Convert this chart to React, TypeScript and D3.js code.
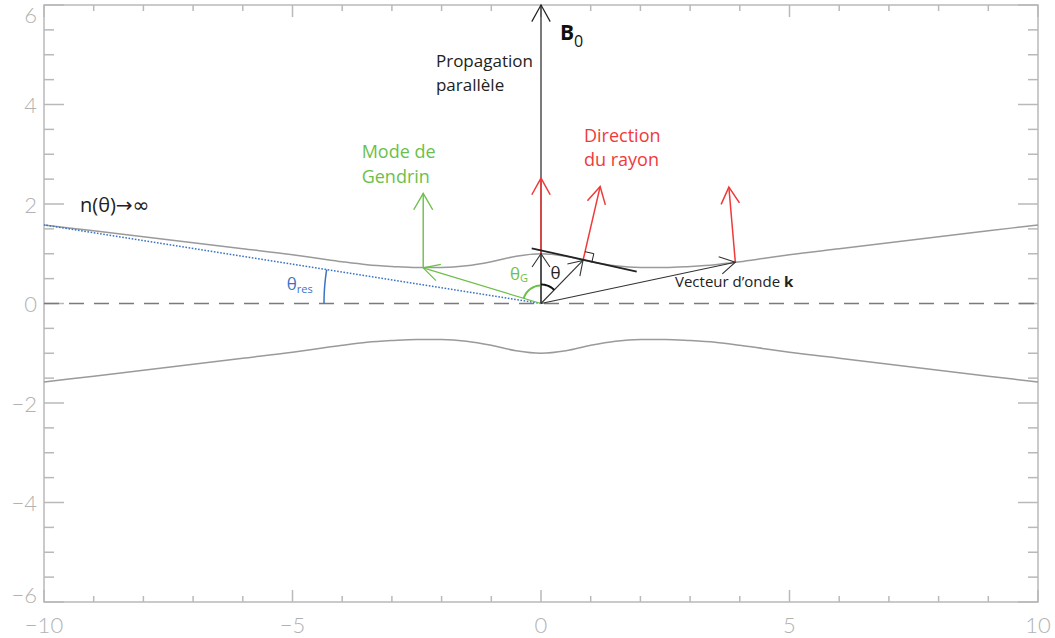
import React from "react";
import * as d3 from "d3";

// ---- data ----
const curveX = [-10, -9, -8, -7, -6, -5, -4.5, -4, -3.5, -3, -2.5, -2, -1.5, -1, -0.5, 0, 0.5, 1, 1.5, 2, 2.5, 3, 3.5, 4, 4.5, 5, 6, 7, 8, 9, 10];
const upperY = [1.58, 1.46, 1.34, 1.22, 1.1, 0.98, 0.91, 0.84, 0.78, 0.745, 0.722, 0.724, 0.758, 0.84, 0.95, 1.0, 0.95, 0.84, 0.758, 0.724, 0.722, 0.745, 0.78, 0.84, 0.91, 0.98, 1.1, 1.22, 1.34, 1.46, 1.58];
const lowerY = [-1.58, -1.46, -1.34, -1.22, -1.1, -0.98, -0.91, -0.84, -0.78, -0.745, -0.722, -0.724, -0.758, -0.84, -0.95, -1.0, -0.95, -0.84, -0.758, -0.724, -0.722, -0.745, -0.78, -0.84, -0.91, -0.98, -1.1, -1.22, -1.34, -1.46, -1.58];

const xMajorTicks = [-10, -5, 0, 5, 10];
const xMinorTicks = [-9, -8, -7, -6, -4, -3, -2, -1, 1, 2, 3, 4, 6, 7, 8, 9];
const yMajorTicks = [-6, -4, -2, 0, 2, 4, 6];
const yMinorTicks = [-5.5, -5, -4.5, -3.5, -3, -2.5, -1.5, -1, -0.5, 0.5, 1, 1.5, 2.5, 3, 3.5, 4.5, 5, 5.5];

// key vectors (data coordinates)
const pGendrin: [number, number] = [-2.37, 0.715];
const pRay: [number, number] = [0.845, 0.865];
const pK: [number, number] = [3.91, 0.83];
const pPar: [number, number] = [0, 1.0];
const redTips: [number, number][] = [[0, 2.52], [1.19, 2.35], [3.78, 2.34]];
const redBases: [number, number][] = [pPar, pRay, pK];
const gendrinTip: [number, number] = [-2.37, 2.215];
const tangentLine: [number, number][] = [[-0.187, 1.11], [1.926, 0.64]];
const resEnd: [number, number] = [-10, 1.58];

const W = 1055, H = 638;
const x = d3.scaleLinear().domain([-10, 10]).range([44, 1038]);
const y = d3.scaleLinear().domain([-6, 6]).range([602, 5]);

const AX = "#b9b9b9";
const LBL = "#b2b2b2";
const GREEN = "#6cbf4a";
const RED = "#f03a3a";
const BLUE = "#3b73c4";
const FONT = "'Open Sans', 'Noto Sans', sans-serif";

function head(tx: number, ty: number, fx: number, fy: number, len: number, angDeg: number) {
  const dx = fx - tx, dy = fy - ty;
  const L = Math.hypot(dx, dy);
  const ux = dx / L, uy = dy / L;
  const a = (angDeg * Math.PI) / 180;
  const r = (c: number, s: number) => [ux * c - uy * s, ux * s + uy * c];
  const [ax, ay] = r(Math.cos(a), Math.sin(a));
  const [bx, by] = r(Math.cos(a), -Math.sin(a));
  return `M${tx + ax * len},${ty + ay * len}L${tx},${ty}L${tx + bx * len},${ty + by * len}`;
}

function Arrow({ from, to, color, width, len, ang }: { from: [number, number]; to: [number, number]; color: string; width: number; len: number; ang: number }) {
  const fx = x(from[0]), fy = y(from[1]), tx = x(to[0]), ty = y(to[1]);
  return (
    <g stroke={color} strokeWidth={width} fill="none">
      <line x1={fx} y1={fy} x2={tx} y2={ty} />
      <path d={head(tx, ty, fx, fy, len, ang)} />
    </g>
  );
}

export default function App() {
  const line = d3.line<number>().x((_, i) => x(curveX[i])).y((d) => y(d)).curve(d3.curveMonotoneX);
  const ox = x(0), oy = y(0);

  const angOf = (p: [number, number]) => Math.atan2(y(p[1]) - oy, x(p[0]) - ox);
  const arcPath = (r: number, a0: number, a1: number) => {
    const pts = d3.range(0, 1.0001, 0.05).map((t) => {
      const a = a0 + (a1 - a0) * t;
      return [ox + r * Math.cos(a), oy + r * Math.sin(a)];
    });
    return "M" + pts.map((p) => p.join(",")).join("L");
  };
  const up = -Math.PI / 2;
  const greenArc = arcPath(18, angOf(pGendrin), up);
  const thetaArc = arcPath(19, up, angOf(pRay));
  const resArc = arcPath(217, angOf(resEnd), -Math.PI);

  const rx = x(pRay[0]), ry = y(pRay[1]);
  const t0 = [x(tangentLine[1][0]) - x(tangentLine[0][0]), y(tangentLine[1][1]) - y(tangentLine[0][1])];
  const tl = Math.hypot(t0[0], t0[1]);
  const tu = [t0[0] / tl, t0[1] / tl];
  const n0 = [x(redTips[1][0]) - rx, y(redTips[1][1]) - ry];
  const nl = Math.hypot(n0[0], n0[1]);
  const nu = [n0[0] / nl, n0[1] / nl];
  const s = 9;
  const sq = `M${rx + tu[0] * s},${ry + tu[1] * s}L${rx + tu[0] * s + nu[0] * s},${ry + tu[1] * s + nu[1] * s}L${rx + nu[0] * s},${ry + nu[1] * s}`;

  return (
    <svg width={W} height={H} style={{ position: "absolute", left: 0, top: 0, background: "#fff" }}>
      <rect x={x(-10)} y={y(6)} width={x(10) - x(-10)} height={y(-6) - y(6)} fill="none" stroke={AX} strokeWidth={1.5} />
      <g stroke={AX} strokeWidth={1.5}>
        {yMajorTicks.map((v) => (
          <g key={"ym" + v}>
            <line x1={x(-10)} x2={x(-10) + 20} y1={y(v)} y2={y(v)} />
            <line x1={x(10)} x2={x(10) - 20} y1={y(v)} y2={y(v)} />
          </g>
        ))}
        {yMinorTicks.map((v) => (
          <g key={"yn" + v}>
            <line x1={x(-10)} x2={x(-10) + 10} y1={y(v)} y2={y(v)} />
            <line x1={x(10)} x2={x(10) - 10} y1={y(v)} y2={y(v)} />
          </g>
        ))}
        {xMajorTicks.map((v) => (
          <g key={"xm" + v}>
            <line x1={x(v)} x2={x(v)} y1={y(-6)} y2={y(-6) - 12} />
            <line x1={x(v)} x2={x(v)} y1={y(6)} y2={y(6) + 12} />
          </g>
        ))}
        {xMinorTicks.map((v) => (
          <g key={"xn" + v}>
            <line x1={x(v)} x2={x(v)} y1={y(-6)} y2={y(-6) - 6} />
            <line x1={x(v)} x2={x(v)} y1={y(6)} y2={y(6) + 6} />
          </g>
        ))}
      </g>
      <g fill={LBL} fontFamily="Lato, 'DejaVu Sans', sans-serif" fontWeight={300} fontSize={22}>
        {yMajorTicks.map((v) => (
          <text key={"yl" + v} x={37} y={Math.min(Math.max(y(v), 14), 594)} textAnchor="end" dominantBaseline="central">
            {v < 0 ? "\u2212" + Math.abs(v) : String(v)}
          </text>
        ))}
        {xMajorTicks.map((v) => (
          <text key={"xl" + v} x={x(v)} y={633} textAnchor="middle">
            {v < 0 ? "\u2212" + Math.abs(v) : String(v)}
          </text>
        ))}
      </g>

      <line x1={x(-10)} x2={x(10)} y1={oy} y2={oy} stroke="#7a7a7a" strokeWidth={1.6} strokeDasharray="15,10" />

      <path d={line(upperY) || ""} fill="none" stroke="#9a9a9a" strokeWidth={1.5} />
      <path d={line(lowerY) || ""} fill="none" stroke="#9a9a9a" strokeWidth={1.5} />

      <line x1={ox} y1={oy} x2={x(resEnd[0])} y2={y(resEnd[1])} stroke={BLUE} strokeWidth={1.6} strokeDasharray="1.6,1.6" />
      <path d={resArc} fill="none" stroke={BLUE} strokeWidth={1.5} />

      <Arrow from={[0, 0]} to={[0, 6]} color="#222" width={1.2} len={19} ang={29} />

      {redTips.map((t, i) => (
        <Arrow key={"r" + i} from={redBases[i]} to={t} color={RED} width={1.5} len={19} ang={29} />
      ))}

      <Arrow from={pGendrin} to={gendrinTip} color={GREEN} width={1.4} len={19} ang={30} />
      <Arrow from={[0, 0]} to={pGendrin} color={GREEN} width={1.2} len={18} ang={28} />
      <path d={greenArc} fill="none" stroke={GREEN} strokeWidth={2} />

      <Arrow from={[0, 0]} to={pPar} color="#333" width={1.1} len={16} ang={34} />
      <Arrow from={[0, 0]} to={pRay} color="#333" width={1.1} len={16} ang={33} />
      <Arrow from={[0, 0]} to={pK} color="#333" width={1.1} len={17.5} ang={30} />
      <path d={thetaArc} fill="none" stroke="#111" strokeWidth={2} />

      <line x1={x(tangentLine[0][0])} y1={y(tangentLine[0][1])} x2={x(tangentLine[1][0])} y2={y(tangentLine[1][1])} stroke="#222" strokeWidth={1.8} />
      <path d={sq} fill="none" stroke="#222" strokeWidth={1} />

      <g fontFamily={FONT}>
        <text x={x(-2.113)} y={y(4.754)} fontSize={17} fill="#222">Propagation</text>
        <text x={x(-2.113)} y={y(4.271)} fontSize={17} fill="#222">parallèle</text>
        <text x={x(0.382)} y={y(5.297)} fontSize={21} fontWeight="bold" fill="#111">
          B<tspan fontSize={16} fontWeight="normal" dy={7}>0</tspan>
        </text>
        <text x={x(0.865)} y={y(3.256)} fontSize={18} fill={RED}>Direction</text>
        <text x={x(0.865)} y={y(2.754)} fontSize={18} fill={RED}>du rayon</text>
        <text x={x(-3.608)} y={y(2.925)} fontSize={18} fill={GREEN}>Mode de</text>
        <text x={x(-3.608)} y={y(2.428)} fontSize={18} fill={GREEN}>Gendrin</text>
        <text x={x(-9.276)} y={y(1.845)} fontSize={20} fill="#222">
          n(θ)<tspan fontFamily="'DejaVu Sans', sans-serif" fontSize={20}>→∞</tspan>
        </text>
        <text x={x(2.696)} y={y(0.338)} fontSize={15} fill="#222">
          Vecteur d’onde <tspan fontWeight="bold">k</tspan>
        </text>
        <text x={x(-0.624)} y={y(0.482)} fontSize={17} fill={GREEN}>
          θ<tspan fontSize={11} dy={2}>G</tspan>
        </text>
        <text x={x(0.191)} y={y(0.486)} fontSize={17} fill="#222">θ</text>
        <text x={x(-5.117)} y={y(0.271)} fontSize={17} fill={BLUE}>
          θ<tspan fontSize={11} dy={3}>res</tspan>
        </text>
      </g>
    </svg>
  );
}
